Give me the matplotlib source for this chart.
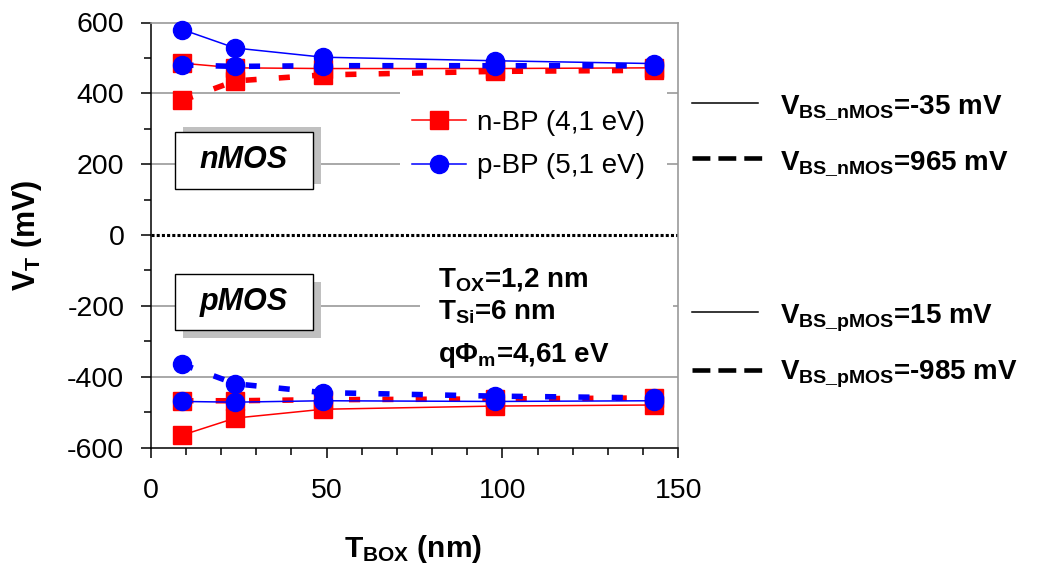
import matplotlib.pyplot as plt
from matplotlib.patches import Rectangle
from matplotlib.lines import Line2D
from matplotlib.ticker import MultipleLocator

plt.rcParams['font.family'] = ['Liberation Sans', 'DejaVu Sans']
plt.rcParams['axes.unicode_minus'] = False
plt.rcParams['mathtext.fontset'] = 'custom'
plt.rcParams['mathtext.rm'] = 'Liberation Sans'
plt.rcParams['mathtext.bf'] = 'Liberation Sans:bold'
plt.rcParams['mathtext.it'] = 'Liberation Sans:italic'

# --- data ---
tbox = [9, 24, 49, 98, 143]

# nMOS, V_BS = -35 mV (solid) / 965 mV (dashed)
nbp_nmos_solid = [485, 472, 470, 470, 472]
nbp_nmos_dash = [380, 435, 452, 462, 465]
pbp_nmos_solid = [580, 528, 502, 492, 484]
pbp_nmos_dash = [480, 476, 478, 478, 478]

# pMOS, V_BS = 15 mV (solid) / -985 mV (dashed)
nbp_pmos_solid = [-565, -517, -492, -483, -480]
nbp_pmos_dash = [-468, -468, -465, -463, -460]
pbp_pmos_solid = [-470, -472, -468, -470, -468]
pbp_pmos_dash = [-365, -420, -445, -455, -460]

legend_labels = ["n-BP (4,1 eV)", "p-BP (5,1 eV)"]
xticks = [0, 50, 100, 150]
yticks = [-600, -400, -200, 0, 200, 400, 600]

RED = "#ff0000"
BLUE = "#0000ff"
GRID = "#999999"

W, H = 1040, 565


def fx(px):
    return px / W


def fy(py):
    return 1 - py / H


def frect(x0, y0, x1, y1):
    # pixel box -> figure fraction (x, y, w, h)
    return fx(x0), fy(y1), (x1 - x0) / W, (y1 - y0) / H


fig = plt.figure(figsize=(W / 100, H / 100), dpi=100)
ax = fig.add_axes([fx(150.7), fy(447.5), 527.6 / W, 425 / H])
ax.set_xlim(0, 150)
ax.set_ylim(-600, 600)

for side in ("left", "bottom"):
    ax.spines[side].set_color("black")
    ax.spines[side].set_linewidth(1.1)
for side in ("top", "right"):
    ax.spines[side].set_color(GRID)
    ax.spines[side].set_linewidth(1.2)

ax.set_xticks(xticks)
ax.set_yticks(yticks)
ax.xaxis.set_minor_locator(MultipleLocator(10))
ax.yaxis.set_minor_locator(MultipleLocator(100))
ax.tick_params(which="major", direction="out", length=7, width=1.1, labelsize=20.5)
ax.tick_params(which="minor", direction="out", length=5, width=1.1)
ax.tick_params(axis="y", which="major", pad=12)
ax.tick_params(axis="x", which="major", pad=15)

# grid and zero line
for v in (-400, -200, 200, 400):
    ax.axhline(v, color=GRID, lw=1.2, zorder=1)
ax.axhline(0, color="black", lw=2.2, dashes=(1.0, 0.7), zorder=2)


def draw(y, color, marker, dashed, z):
    if dashed:
        ax.plot(tbox, y, color=color, lw=4, dashes=(2.0, 4.0), marker=marker,
                ms=13, mec=color, mfc=color, zorder=z, clip_on=False)
    else:
        ax.plot(tbox, y, color=color, lw=1.1, marker=marker,
                ms=13, mec=color, mfc=color, zorder=z, clip_on=False)


draw(nbp_nmos_solid, RED, "s", False, 3)
draw(nbp_nmos_dash, RED, "s", True, 3.1)
draw(pbp_nmos_solid, BLUE, "o", False, 3.2)
draw(pbp_nmos_dash, BLUE, "o", True, 3.3)
draw(nbp_pmos_solid, RED, "s", False, 3)
draw(nbp_pmos_dash, RED, "s", True, 3.1)
draw(pbp_pmos_solid, BLUE, "o", False, 3.2)
draw(pbp_pmos_dash, BLUE, "o", True, 3.3)

# white areas behind legend and parameter text
for box in ((400, 88, 667, 190), (420, 255, 673, 374)):
    ax.add_patch(Rectangle(frect(*box)[:2], *frect(*box)[2:], transform=fig.transFigure,
                           facecolor="white", edgecolor="none", zorder=2.5, clip_on=False))

# nMOS / pMOS label boxes with shadow
for label, box, shadow in (("nMOS", (175, 132, 313, 189), (182.5, 127, 320.5, 184)),
                           ("pMOS", (175, 274, 313, 330), (182.5, 282, 320.5, 338))):
    r = frect(*shadow)
    ax.add_patch(Rectangle(r[:2], *r[2:], transform=fig.transFigure, facecolor="#c0c0c0",
                           edgecolor="none", zorder=4, clip_on=False))
    r = frect(*box)
    ax.add_patch(Rectangle(r[:2], *r[2:], transform=fig.transFigure, facecolor="white",
                           edgecolor="black", lw=1.0, zorder=4.1, clip_on=False))
    fig.text(fx((box[0] + box[2]) / 2), fy((box[1] + box[3]) / 2), label, fontsize=22,
             fontweight="bold", fontstyle="italic", ha="center", va="center", zorder=5)

handles = [Line2D([], [], color=RED, lw=1.1, marker="s", ms=13, mec=RED, mfc=RED),
           Line2D([], [], color=BLUE, lw=1.1, marker="o", ms=13, mec=BLUE, mfc=BLUE)]
ax.legend(handles, legend_labels, loc="upper left", bbox_to_anchor=(fx(411.7), fy(110)),
          bbox_transform=fig.transFigure, frameon=False, fontsize=20, handlelength=1.95,
          handletextpad=0.4, labelspacing=0.62, borderpad=0, borderaxespad=0)

# process parameters
params = ["T$_{\\mathbf{OX}}$=1,2 nm", "T$_{\\mathbf{Si}}$=6 nm", "q\u03a6$_{\\mathbf{m}}$=4,61 eV"]
for txt, base in zip(params, (286.7, 320, 361.7)):
    fig.text(fx(438), fy(base), txt, fontsize=20, fontweight="bold", ha="left",
             va="baseline", zorder=6)

# bias legend on the right
bias = [("-", 103.3, 113.3, "V$_{\\mathbf{BS\\_nMOS}}$=-35 mV"),
        ("--", 158.3, 169.3, "V$_{\\mathbf{BS\\_nMOS}}$=965 mV"),
        ("-", 311.7, 323.3, "V$_{\\mathbf{BS\\_pMOS}}$=15 mV"),
        ("--", 370, 380, "V$_{\\mathbf{BS\\_pMOS}}$=-985 mV")]
for style, ly, base, txt in bias:
    if style == "-":
        fig.add_artist(Line2D([fx(692), fx(758)], [fy(ly), fy(ly)], color="black", lw=1.1))
    else:
        fig.add_artist(Line2D([fx(692), fx(762)], [fy(ly), fy(ly)], color="black", lw=3.3,
                              dashes=(3.9, 1.75)))
    fig.text(fx(780), fy(base), txt, fontsize=20, fontweight="bold", ha="left", va="baseline")

fig.text(fx(27.5), fy(235), "V$_{\\mathbf{T}}$ (mV)", fontsize=22, fontweight="bold",
         rotation=90, ha="center", va="center")
fig.text(fx(413), fy(557), "T$_{\\mathbf{BOX}}$ (nm)", fontsize=21.5, fontweight="bold",
         ha="center", va="baseline")

fig.savefig("out.png", dpi=100, facecolor="white")
